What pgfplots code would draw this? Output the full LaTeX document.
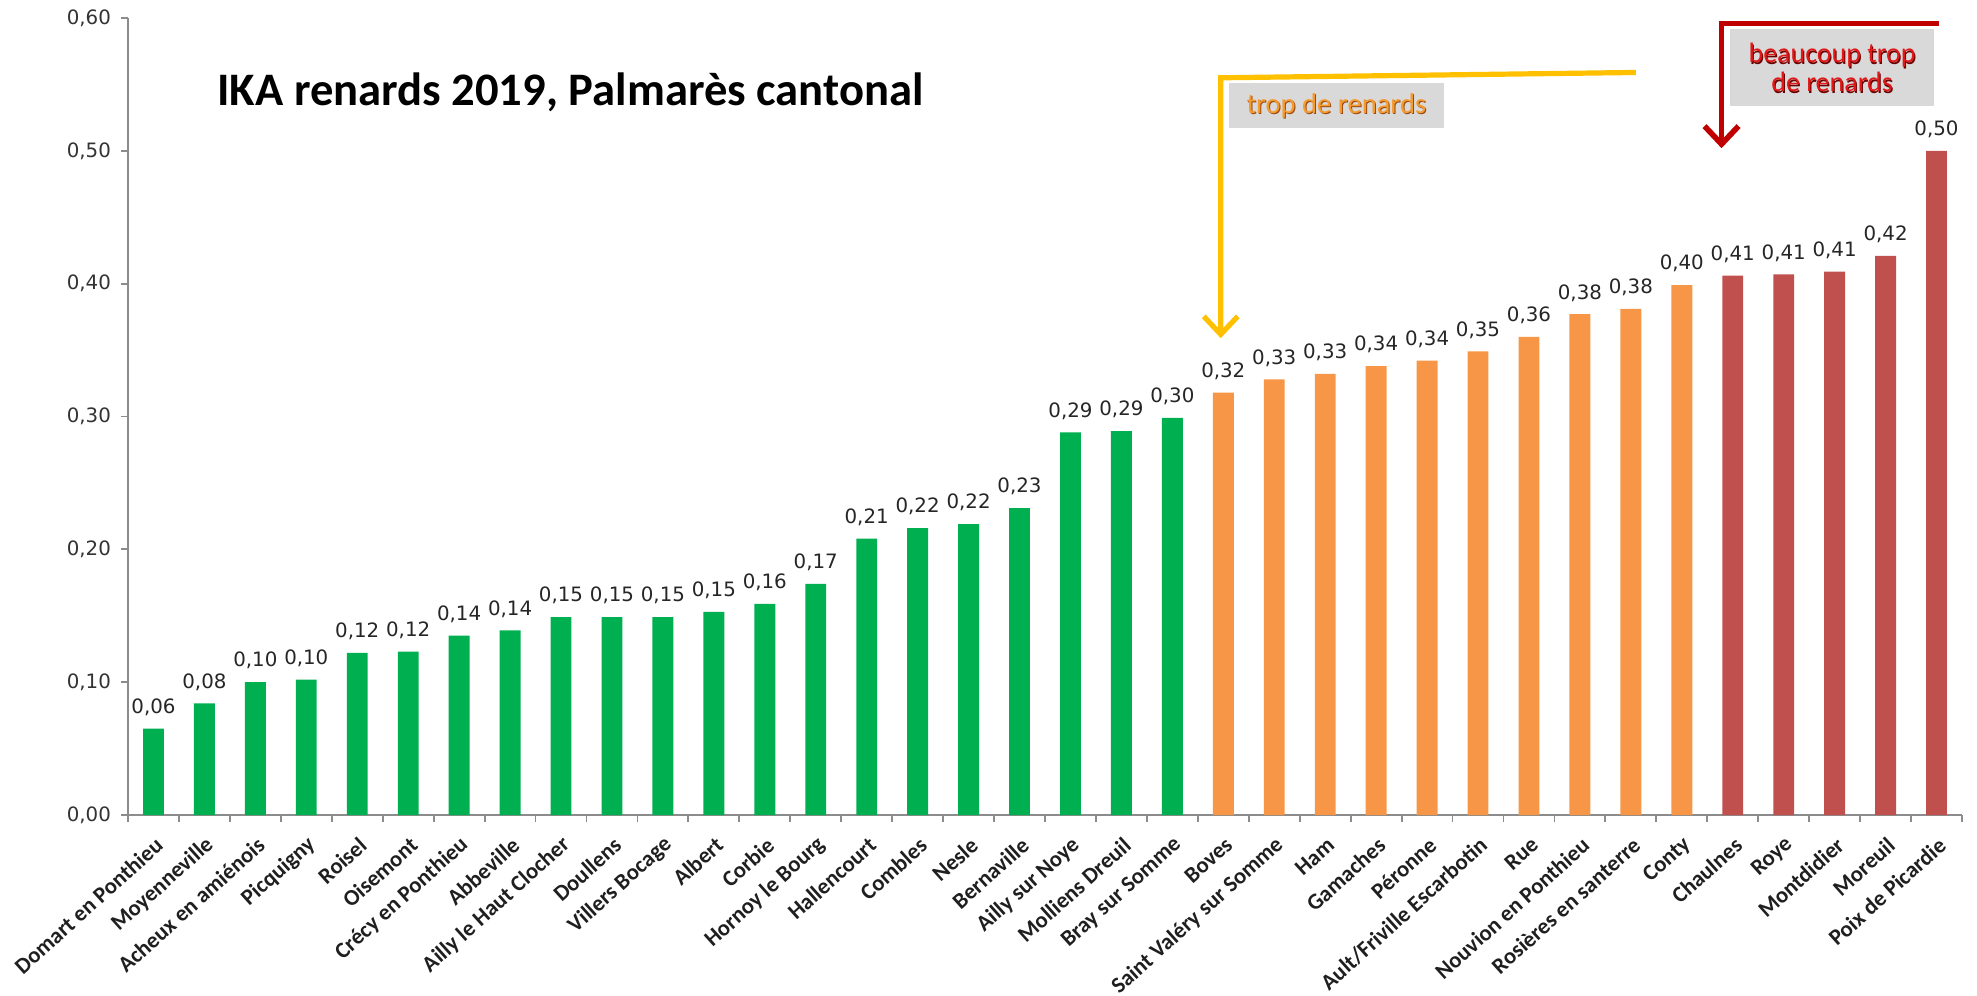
\documentclass[border=0pt]{standalone}
\usepackage{pgfplots}
\pgfplotsset{compat=1.18}
\usepackage{pgfplotstable}
\usepackage{fontspec}
\setmainfont{Carlito}
\newfontfamily\numfont{DejaVu Sans}
\usetikzlibrary{arrows.meta,calc}
\definecolor{cgreen}{HTML}{00B050}
\definecolor{corange}{HTML}{F79646}
\definecolor{cred}{HTML}{C0504D}
\definecolor{axgray}{HTML}{8C8C8C}
\definecolor{ayellow}{HTML}{FFC000}
\definecolor{ared}{HTML}{C00000}
\definecolor{boxgray}{HTML}{D9D9D9}
\definecolor{torange}{HTML}{F59A2E}
\definecolor{tshadow}{HTML}{9A4A10}
\definecolor{tred}{HTML}{E01818}
\definecolor{tredshadow}{HTML}{6A0000}

\pgfplotstableread{
x y lab
0 0.065 0,06
1 0.084 0,08
2 0.100 0,10
3 0.102 0,10
4 0.122 0,12
5 0.123 0,12
6 0.135 0,14
7 0.139 0,14
8 0.149 0,15
9 0.149 0,15
10 0.149 0,15
11 0.153 0,15
12 0.159 0,16
13 0.174 0,17
14 0.208 0,21
15 0.216 0,22
16 0.219 0,22
17 0.231 0,23
18 0.288 0,29
19 0.289 0,29
20 0.299 0,30
}\greendata
\pgfplotstableread{
x y lab
21 0.318 0,32
22 0.328 0,33
23 0.332 0,33
24 0.338 0,34
25 0.342 0,34
26 0.349 0,35
27 0.360 0,36
28 0.377 0,38
29 0.381 0,38
30 0.399 0,40
}\orangedata
\pgfplotstableread{
x y lab
31 0.406 0,41
32 0.407 0,41
33 0.409 0,41
34 0.421 0,42
35 0.500 0,50
}\reddata

\begin{document}
\begin{tikzpicture}
\begin{axis}[
  at={(0pt,0pt)}, anchor=south west,
  scale only axis, width=917pt, height=398.5pt,
  xmin=-0.5, xmax=35.5, ymin=0, ymax=0.6,
  axis x line*=bottom, axis y line*=left,
  axis line style={draw=axgray, line width=0.9pt},
  clip=false,
  tick align=outside,
  major tick style={draw=none},
  minor tick style={draw=axgray, line width=0.9pt},
  minor tick length=3.5pt,
  major tick length=3.5pt,
  xtick={0,...,35},
  minor xtick={-0.5,0.5,...,35.5},
  ytick={0,0.1,0.2,0.3,0.4,0.5,0.6},
  minor ytick={0,0.1,0.2,0.3,0.4,0.5,0.6},
  xticklabels={Domart en Ponthieu,Moyenneville,Acheux en amiénois,Picquigny,Roisel,Oisemont,Crécy en Ponthieu,Abbeville,Ailly le Haut Clocher,Doullens,Villers Bocage,Albert,Corbie,Hornoy le Bourg,Hallencourt,Combles,Nesle,Bernaville,Ailly sur Noye,Molliens Dreuil,Bray sur Somme,Boves,Saint Valéry sur Somme,Ham,Gamaches,Péronne,Ault/Friville Escarbotin,Rue,Nouvion en Ponthieu,Rosières en santerre,Conty,Chaulnes,Roye,Montdidier,Moreuil,Poix de Picardie},
  xticklabel style={xshift=3pt, rotate=42, anchor=east, font=\bfseries\fontsize{11.3}{13}\selectfont, text=black!88, inner sep=0pt},
  xticklabel shift=9.8pt,
  /pgf/number format/assume math mode=true,
  yticklabel={\pgfmathprintnumber[fixed,fixed zerofill,precision=2,use comma]{\tick}},
  yticklabel style={font=\numfont\fontsize{9.9}{11}\selectfont, text=black!80},
  yticklabel shift=1.5pt,
  every node near coord/.append style={font=\numfont\fontsize{9.9}{11}\selectfont, text=black!85, anchor=base, yshift=7.6pt, inner sep=0pt},
]
\addplot[ybar, bar shift=0pt, bar width=0.41, fill=cgreen, draw=none,
  nodes near coords, point meta=explicit symbolic]
  table[x=x, y=y, meta=lab] {\greendata};
\addplot[ybar, bar shift=0pt, bar width=0.41, fill=corange, draw=none,
  nodes near coords, point meta=explicit symbolic]
  table[x=x, y=y, meta=lab] {\orangedata};
\addplot[ybar, bar shift=0pt, bar width=0.41, fill=cred, draw=none,
  nodes near coords, point meta=explicit symbolic]
  table[x=x, y=y, meta=lab] {\reddata};

% annotation: trop de renards
\fill[boxgray] (axis cs:21.11,0.517) rectangle (axis cs:25.33,0.551);
\draw[ayellow, line width=2.6pt, line join=miter,
  -{Straight Barb[length=9pt, width=17pt]}]
  (axis cs:29.1,0.559) -- (axis cs:20.95,0.555) -- (axis cs:20.95,0.359);
\node[font=\fontsize{14.3}{16}\selectfont, text=tshadow, inner sep=0pt]
  at ($(axis cs:23.22,0.534)+(0.5pt,-0.6pt)$) {trop de renards};
\node[font=\fontsize{14.3}{16}\selectfont, text=torange, inner sep=0pt]
  at (axis cs:23.22,0.534) {trop de renards};

% annotation: beaucoup trop de renards
\fill[boxgray] (axis cs:30.95,0.5335) rectangle (axis cs:34.95,0.592);
\draw[ared, line width=2.8pt, line join=miter,
  -{Straight Barb[length=9pt, width=17pt]}]
  (axis cs:35.05,0.596) -- (axis cs:30.78,0.596) -- (axis cs:30.78,0.502);
\node[font=\fontsize{14}{14.5}\selectfont, text=tredshadow, inner sep=0pt, align=center]
  at ($(axis cs:32.95,0.5625)+(0.5pt,-0.6pt)$) {beaucoup trop\\de renards};
\node[font=\fontsize{14}{14.5}\selectfont, text=tred, inner sep=0pt, align=center]
  at (axis cs:32.95,0.5625) {beaucoup trop\\de renards};
\end{axis}
\node[anchor=base west, inner sep=0pt, font=\bfseries\fontsize{23.3}{28}\selectfont]
  at (44.5pt,354.5pt) {IKA renards 2019, Palmarès cantonal};
\pgfresetboundingbox
\useasboundingbox (-64pt,-90.5pt) rectangle (924.5pt,407.5pt);
\end{tikzpicture}
\end{document}
